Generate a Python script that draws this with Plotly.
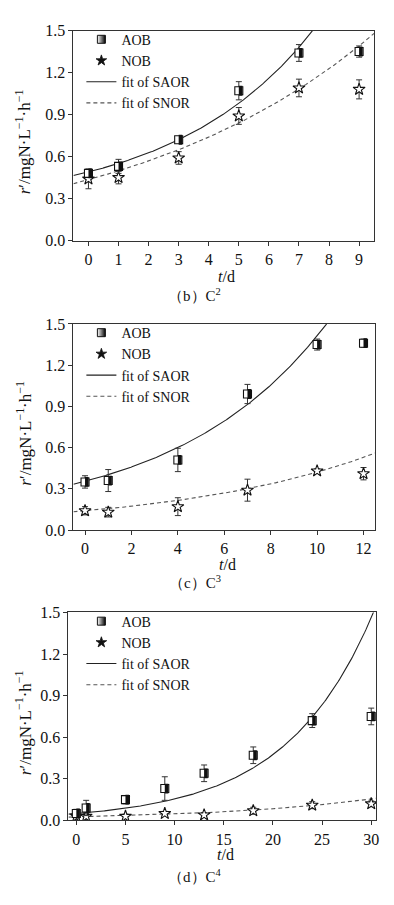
import numpy as np
import plotly.graph_objects as go

W, H = 394, 905

# ---------------- data ----------------
# panel (b) C2
t_b = [0, 1, 3, 5, 7, 9]
aob_b = [0.48, 0.53, 0.72, 1.07, 1.34, 1.35]
aob_b_err = [0.03, 0.05, 0.015, 0.065, 0.06, 0.04]
nob_b = [0.44, 0.45, 0.59, 0.89, 1.09, 1.08]
nob_b_err = [0.07, 0.045, 0.045, 0.06, 0.063, 0.068]
saor_b = (0.236, 0.254, 0.215)   # y0, A, k  (y = y0 + A*exp(k t))
snor_b = (-0.063, 0.498, 0.119)

# panel (c) C3
t_c = [0, 1, 4, 7, 10, 12]
aob_c = [0.35, 0.36, 0.51, 0.99, 1.35, 1.36]
aob_c_err = [0.045, 0.08, 0.085, 0.07, 0.04, 0.03]
nob_c = [0.14, 0.13, 0.17, 0.29, 0.43, 0.41]
nob_c_err = [0.03, 0.035, 0.065, 0.08, 0.015, 0.045]
saor_c = (0.07, 0.285, 0.155)
snor_c = (0.0154, 0.1246, 0.118)

# panel (d) C4
t_d = [0, 1, 5, 9, 13, 18, 24, 30]
aob_d = [0.05, 0.09, 0.15, 0.23, 0.34, 0.47, 0.72, 0.75]
aob_d_err = [0.03, 0.055, 0.03, 0.085, 0.06, 0.06, 0.05, 0.06]
nob_d = [0.03, 0.03, 0.03, 0.05, 0.04, 0.07, 0.11, 0.12]
nob_d_err = [0.02, 0.02, 0.015, 0.015, 0.015, 0.025, 0.025, 0.02]
saor_d = (0.0, 0.05, 0.1125)
snor_d = (0.0, 0.025, 0.0608)

y_ticks = [0.0, 0.3, 0.6, 0.9, 1.2, 1.5]
captions = ["（b）C<sup>2</sup>", "（c）C<sup>3</sup>", "（d）C<sup>4</sup>"]

# ---------------- layout geometry (pixels) ----------------
panels = [
    dict(t=t_b, aob=aob_b, aob_e=aob_b_err, nob=nob_b, nob_e=nob_b_err,
         saor=saor_b, snor=snor_b, xr=[-0.5, 9.5], dtick=1,
         px=(74, 377), py=(23, 237), xt=274, cap=293),
    dict(t=t_c, aob=aob_c, aob_e=aob_c_err, nob=nob_c, nob_e=nob_c_err,
         saor=saor_c, snor=snor_c, xr=[-0.5, 12.5], dtick=2,
         px=(74, 378), py=(322, 532), xt=567, cap=585),
    dict(t=t_d, aob=aob_d, aob_e=aob_d_err, nob=nob_d, nob_e=nob_d_err,
         saor=saor_d, snor=snor_d, xr=[-0.8, 30.5], dtick=5,
         px=(69, 379), py=(616, 828), xt=863, cap=885),
]

FONT = "Liberation Serif, Times New Roman, serif"
AX = "#333333"

fig = go.Figure()
layout = dict(
    width=W, height=H, margin=dict(l=0, r=0, t=0, b=0),
    paper_bgcolor="white", plot_bgcolor="white",
    font=dict(family=FONT, size=16, color="#111"),
    annotations=[],
)

for i, p in enumerate(panels):
    n = i + 1
    xa = "x" if n == 1 else f"x{n}"
    ya = "y" if n == 1 else f"y{n}"
    leg = "legend" if n == 1 else f"legend{n}"
    ppu = (p["px"][1] - p["px"][0]) / (p["xr"][1] - p["xr"][0])  # pixels per unit
    dx = 1.8 / ppu

    # legend-only entries (markers)
    fig.add_trace(go.Scatter(x=[None], y=[None], mode="markers", name="AOB",
                             marker=dict(symbol="square", size=8, color="white",
                                         gradient=dict(type="horizontal", color="black"),
                                         line=dict(color="#111", width=1)),
                             xaxis=xa, yaxis=ya, legend=leg, legendrank=1))
    fig.add_trace(go.Scatter(x=[None], y=[None], mode="markers", name="NOB",
                             marker=dict(symbol="star", size=8, color="#111",
                                         line=dict(color="#111", width=0.8)),
                             xaxis=xa, yaxis=ya, legend=leg, legendrank=2))

    # fits
    xs = np.linspace(p["xr"][0], p["xr"][1], 300)
    y0, A, k = p["saor"]
    fig.add_trace(go.Scatter(x=xs, y=y0 + A * np.exp(k * xs), mode="lines",
                             line=dict(color="#222", width=1.1),
                             name="fit of SAOR", xaxis=xa, yaxis=ya, legend=leg,
                             legendrank=3))
    y0, A, k = p["snor"]
    fig.add_trace(go.Scatter(x=xs, y=y0 + A * np.exp(k * xs), mode="lines",
                             line=dict(color="#555", width=1.1, dash="4px,3px"),
                             name="fit of SNOR", xaxis=xa, yaxis=ya, legend=leg,
                             legendrank=4))
    # data: NOB stars
    fig.add_trace(go.Scatter(x=p["t"], y=p["nob"], mode="markers", name="NOB",
                             showlegend=False,
                             error_y=dict(type="data", array=p["nob_e"], color="#333",
                                          thickness=1, width=3),
                             marker=dict(symbol="star", size=9, color="white",
                                         line=dict(color="#111", width=1.1)),
                             xaxis=xa, yaxis=ya))
    # data: AOB half-filled squares
    fig.add_trace(go.Scatter(x=p["t"], y=p["aob"], mode="markers", name="AOB",
                             showlegend=False,
                             error_y=dict(type="data", array=p["aob_e"], color="#333",
                                          thickness=1, width=3),
                             marker=dict(symbol="square", size=8, color="white",
                                         line=dict(color="#111", width=1.1)),
                             xaxis=xa, yaxis=ya))
    fig.add_trace(go.Scatter(x=[t + dx for t in p["t"]], y=p["aob"], mode="markers",
                             name="AOB", showlegend=False, hoverinfo="skip",
                             marker=dict(symbol="line-ns", size=7,
                                         line=dict(color="#111", width=3.6)),
                             xaxis=xa, yaxis=ya))

    xd = [p["px"][0] / W, p["px"][1] / W]
    yd = [1 - p["py"][1] / H, 1 - p["py"][0] / H]
    xkey = "xaxis" if n == 1 else f"xaxis{n}"
    ykey = "yaxis" if n == 1 else f"yaxis{n}"
    layout[xkey] = dict(domain=xd, range=p["xr"], anchor=ya, dtick=p["dtick"], tick0=0,
                        showline=True, linecolor=AX, linewidth=1, mirror=True,
                        ticks="outside", ticklen=4, tickcolor=AX, showgrid=False,
                        zeroline=False, tickfont=dict(size=16, family=FONT))
    layout[ykey] = dict(domain=yd, range=[0, 1.5], anchor=xa, tickvals=y_ticks,
                        tickformat=".1f",
                        showline=True, linecolor=AX, linewidth=1, mirror=True,
                        ticks="outside", ticklen=4, tickcolor=AX, showgrid=False,
                        zeroline=False, tickfont=dict(size=16, family=FONT))
    layout[leg] = dict(x=82 / W, y=1 - (p["py"][0] - 7) / H, xanchor="left", yanchor="top",
                       bgcolor="rgba(0,0,0,0)", font=dict(size=14, family=FONT),
                       tracegroupgap=0, itemwidth=30)

    cx = (p["px"][0] + p["px"][1]) / 2
    cy = (p["py"][0] + p["py"][1]) / 2
    layout["annotations"] += [
        dict(text="<i>t</i>/d", x=(cx + 3) / W, y=1 - p["xt"] / H, xref="paper", yref="paper",
             showarrow=False, xanchor="center", yanchor="middle",
             font=dict(size=16, family=FONT)),
        dict(text=captions[i], x=196 / W, y=1 - p["cap"] / H, xref="paper", yref="paper",
             showarrow=False, xanchor="center", yanchor="middle",
             font=dict(size=15, family=FONT)),
        dict(text="<i>r</i>′/mgN·L<sup>−1</sup>·h<sup>−1</sup>", x=24 / W, y=1 - (cy + 6) / H,
             xref="paper", yref="paper", showarrow=False, textangle=-90,
             xanchor="center", yanchor="middle", font=dict(size=17, family=FONT)),
    ]

fig.update_layout(**layout)
fig.write_html("out.html", config={"displayModeBar": False},
               post_script="document.body.style.margin='0';document.body.style.overflow='hidden';")
